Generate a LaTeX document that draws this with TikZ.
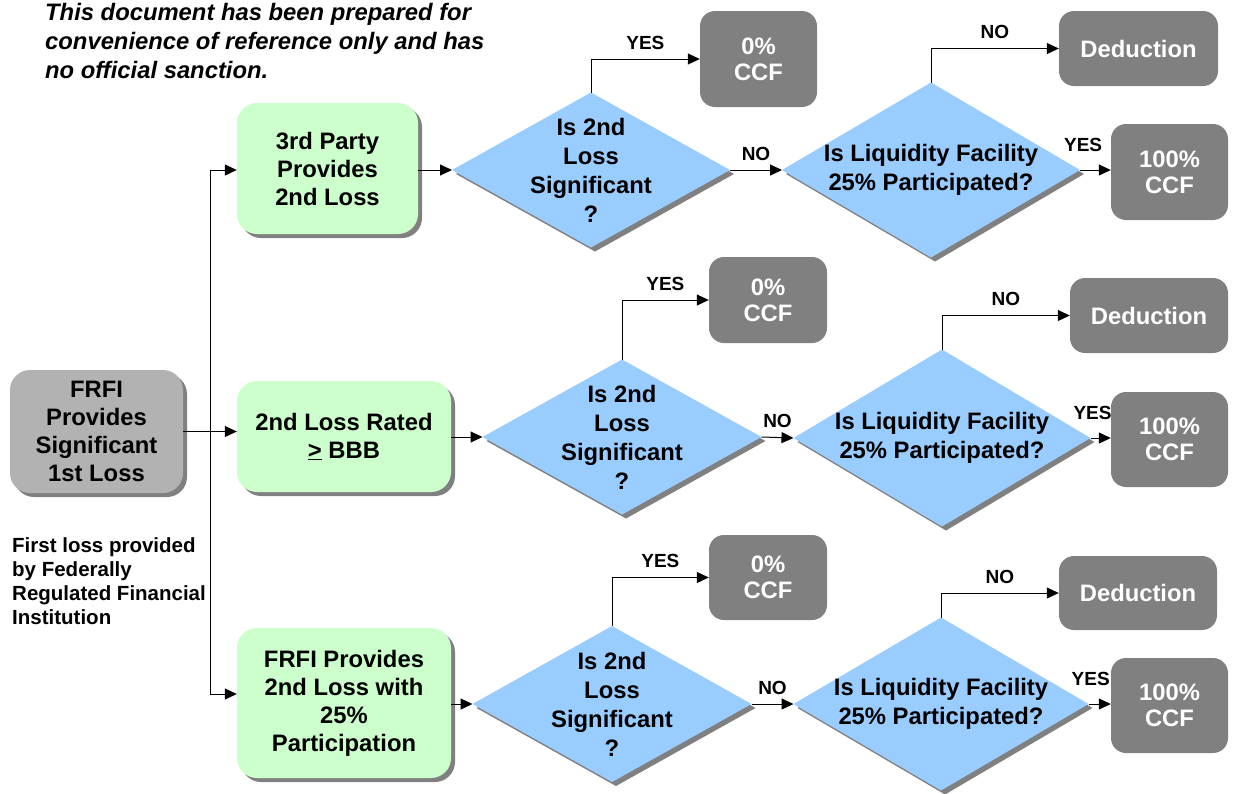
\documentclass[tikz,border=0pt]{standalone}
\usepackage{fontspec}
\setmainfont{Liberation Sans}
\usepackage{xcolor}
\usetikzlibrary{arrows.meta, shapes.geometric, shadows, calc}

\definecolor{boxgreen}{HTML}{CCFFCC}
\definecolor{askblue}{HTML}{99CCFF}
\definecolor{resgray}{HTML}{808080}
\definecolor{startgray}{HTML}{B2B2B2}
\definecolor{shadegray}{HTML}{808080}

\begin{document}
\begin{tikzpicture}[
                x=1pt, y=-1pt,
                txt/.style={font=\fontsize{23.8}{28}\selectfont\bfseries, align=center},
                boxshadow/.style={drop shadow={shadow xshift=4pt, shadow yshift=-4pt, fill=shadegray, opacity=1}},
                startbox/.style={txt, boxshadow, fill=startgray, rounded corners=20pt, inner sep=0pt},
                choice/.style={txt, boxshadow, fill=boxgreen, rounded corners=20pt, inner sep=0pt},
                ask/.style={diamond, boxshadow, fill=askblue, inner sep=0pt, outer sep=0pt},
                asktxt/.style={txt, font=\fontsize{23.8}{29}\selectfont\bfseries, inner sep=0pt},
                result/.style={txt, font=\fontsize{23.8}{26}\selectfont\bfseries, text=white, fill=resgray, rounded corners=15pt, inner sep=0pt},
                note/.style={anchor=north west, inner sep=0pt, align=left},
                lbl/.style={font=\fontsize{19}{22}\selectfont\bfseries, inner sep=3pt},
                flow/.style={line width=1pt, -{Triangle[length=12pt, width=11pt]}}
            ]
                \useasboundingbox (0,0) rectangle (1239,793);

                % Texts
                \node[note, font=\fontsize{23.8}{29}\selectfont\bfseries\itshape] (disclaimer) at (45,3)
                    {This document has been prepared for\\convenience of reference only and has\\no official sanction.};
                \node[note, font=\fontsize{20.5}{24}\selectfont\bfseries] (fnote) at (12,537)
                    {First loss provided\\by Federally\\Regulated Financial\\Institution};

                % Start and choices
                \node[startbox, minimum width=173pt, minimum height=123pt] (frfi) at (96.5,431.5) {FRFI\\Provides\\Significant\\1st Loss};
                \node[choice, minimum width=181pt, minimum height=131pt] (g1) at (327.5,168.5) {3rd Party\\Provides\\2nd Loss};
                \node[choice, minimum width=214pt, minimum height=111pt] (g2) at (344,436.5) {2nd Loss Rated\\\underline{>} BBB};
                \node[choice, minimum width=214pt, minimum height=150pt] (g3) at (344,703) {FRFI Provides\\2nd Loss with\\25\%\\Participation};

                % Questions
                \node[ask, minimum width=278pt, minimum height=155pt] (q1) at (591,170) {};
                \node[ask, minimum width=298pt, minimum height=175pt] (p1) at (931,170) {};
                \node[ask, minimum width=279pt, minimum height=155pt] (q2) at (622,437) {};
                \node[ask, minimum width=297pt, minimum height=177pt] (p2) at (942,438) {};
                \node[ask, minimum width=279pt, minimum height=156pt] (q3) at (612,704) {};
                \node[ask, minimum width=295pt, minimum height=173pt] (p3) at (941,704) {};
                \node[asktxt] (q1t) at (q1.center) {Is 2nd\\Loss\\Significant\\?};
                \node[asktxt] (p1t) at (p1.center) {Is Liquidity Facility\\25\% Participated?};
                \node[asktxt] (q2t) at (q2.center) {Is 2nd\\Loss\\Significant\\?};
                \node[asktxt] (p2t) at (p2.center) {Is Liquidity Facility\\25\% Participated?};
                \node[asktxt] (q3t) at (q3.center) {Is 2nd\\Loss\\Significant\\?};
                \node[asktxt] (p3t) at (p3.center) {Is Liquidity Facility\\25\% Participated?};

                % Results
                \node[result, minimum width=117pt, minimum height=96pt] (z1) at (758.5,59) {0\%\\CCF};
                \node[result, minimum width=159pt, minimum height=75pt] (d1) at (1138.5,48.5) {Deduction};
                \node[result, minimum width=117pt, minimum height=96pt] (h1) at (1169.5,172) {100\%\\CCF};
                \node[result, minimum width=118pt, minimum height=86pt] (z2) at (768,300) {0\%\\CCF};
                \node[result, minimum width=158pt, minimum height=75pt] (d2) at (1149,315.5) {Deduction};
                \node[result, minimum width=117pt, minimum height=95pt] (h2) at (1169.5,439.5) {100\%\\CCF};
                \node[result, minimum width=118pt, minimum height=85pt] (z3) at (768,577.5) {0\%\\CCF};
                \node[result, minimum width=158pt, minimum height=74pt] (d3) at (1138,593) {Deduction};
                \node[result, minimum width=117pt, minimum height=95pt] (h3) at (1169.5,705.5) {100\%\\CCF};

                % Edges
                \coordinate (trunk) at (210,432);
                \draw[flow] (frfi.east) -- (frfi.east -| g2.west);
                \draw[flow] (trunk |- q1.west) -- (q1.west -| g1.west);
                \draw[flow] (trunk |- q1.west) |- ($(g3.west)+(0,-9)$);

                \draw[flow] (q1.west -| g1.east) -- (q1.west);
                \draw[flow] (q2.west -| g2.east) -- (q2.west);
                \draw[flow] (q3.west -| g3.east) -- (q3.west);

                \draw[flow] (q1.north) |- node[lbl, pos=0.75, above=6pt] {YES} (z1.west);
                \draw[flow] (q2.north) |- node[lbl, pos=0.75, above=6pt] {YES} (z2.west);
                \draw[flow] (q3.north) |- node[lbl, pos=0.75, above=6pt] {YES} (z3.west);

                \draw[flow] (q1.east) -- node[lbl, above=6pt] {NO} (p1.west);
                \draw[flow] (q2.east) -- node[lbl, above=6pt] {NO} (p2.west);
                \draw[flow] (q3.east) -- node[lbl, above=6pt] {NO} (p3.west);

                \draw[flow] (p1.north) |- node[lbl, pos=0.75, above=6pt] {NO} (d1.west);
                \draw[flow] (p2.north) |- node[lbl, pos=0.75, above=6pt] {NO} (d2.west);
                \draw[flow] (p3.north) |- node[lbl, pos=0.75, above=6pt] {NO} (d3.west);

                \draw[flow] (p1.east) -- node[lbl, pos=0.1, above=15pt] {YES} (p1.east -| h1.west);
                \draw[flow] (p2.east) -- node[lbl, pos=0.1, above=15pt] {YES} (p2.east -| h2.west);
                \draw[flow] (p3.east) -- node[lbl, pos=0.1, above=15pt] {YES} (p3.east -| h3.west);
            \end{tikzpicture}
\end{document}
